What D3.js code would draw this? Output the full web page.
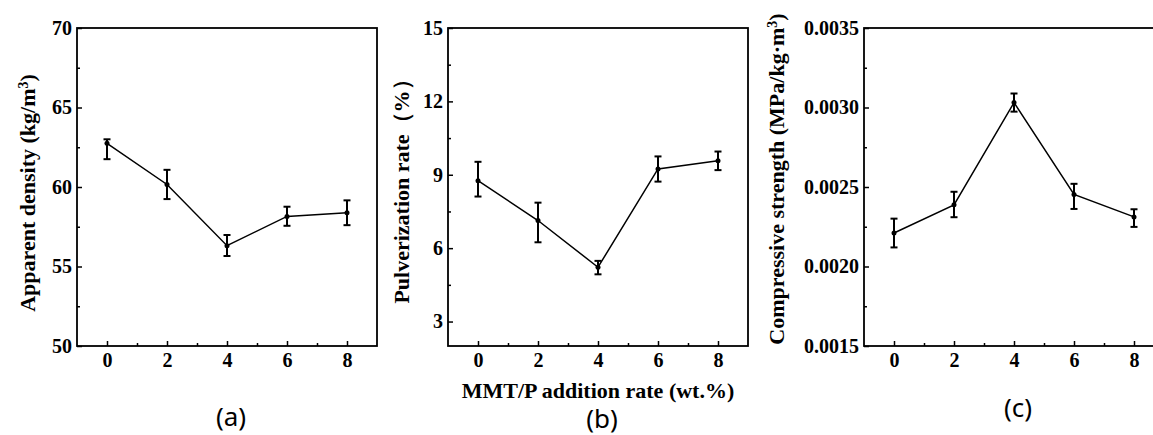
<!DOCTYPE html>
<html lang="en">
<head>
<meta charset="utf-8">
<script src="https://d3js.org/d3.v7.min.js"></script>
<style>
  body { margin: 0; background: #fff; }
  svg { display: block; }
  .axis text { font-family: "Liberation Serif", "Times New Roman", serif; font-weight: bold; font-size: 20px; fill: #000; }
  .axis line { stroke: #000; stroke-width: 1.5; }
  .title { font-family: "Liberation Serif", "Times New Roman", serif; font-weight: bold; font-size: 22px; fill: #000; }
  .tag { font-family: "Noto Sans", "Open Sans", sans-serif; font-size: 26px; fill: #000; }
</style>
</head>
<body>
<script>
// x values (MMT/P addition rate, wt.%)
const xValues = [0, 2, 4, 6, 8];
const xTicks = [0, 2, 4, 6, 8];

// (a) apparent density
const densityMean  = [62.75, 60.16, 56.31, 58.15, 58.38];
const densityUpper = [63.00, 61.08, 56.98, 58.76, 59.16];
const densityLower = [61.75, 59.24, 55.66, 57.56, 57.60];
const densityTicks = [50, 55, 60, 65, 70];

// (b) pulverization rate
const pulverMean  = [8.76, 7.13, 5.22, 9.24, 9.57];
const pulverUpper = [9.53, 7.86, 5.48, 9.75, 9.95];
const pulverLower = [8.11, 6.24, 4.93, 8.72, 9.19];
const pulverTicks = [3, 6, 9, 12, 15];

// (c) compressive strength
const strengthMean  = [0.002211, 0.002388, 0.003031, 0.002453, 0.002312];
const strengthUpper = [0.002301, 0.002470, 0.003088, 0.002520, 0.002360];
const strengthLower = [0.002120, 0.002310, 0.002974, 0.002362, 0.002249];
const strengthTicks = [0.0015, 0.0020, 0.0025, 0.0030, 0.0035];

const W = 1153, H = 435;
const svg = d3.select("body").append("svg")
  .attr("width", W).attr("height", H);

const plotW = 300, plotTop = 28, plotBottom = 346;

let drawPanel = function(p) {
  const g = svg.append("g").attr("transform", "translate(" + p.left + ",0)");

  const x = d3.scaleLinear().domain([-1, 9]).range([0, plotW]);
  const y = d3.scaleLinear().domain(p.yDomain).range([plotBottom, plotTop]);

  // minor ticks (half way between majors)
  const step = p.yTicks[1] - p.yTicks[0];
  const yMinor = p.yTicks.slice(0, -1).map(d => d + step / 2);
  if (p.yDomain[0] < p.yTicks[0]) yMinor.unshift(p.yTicks[0] - step / 2);
  const yMinorIn = yMinor.filter(d => d > p.yDomain[0]);

  g.append("g").attr("class", "axis")
    .call(d3.axisLeft(y).tickValues(yMinorIn).tickSizeInner(-3).tickSizeOuter(0).tickFormat(""))
    .call(a => a.select(".domain").remove());
  g.append("g").attr("class", "axis")
    .call(d3.axisLeft(y).tickValues(p.yTicks).tickSizeInner(-5).tickSizeOuter(0).tickPadding(5).tickFormat(p.fmt))
    .call(a => a.select(".domain").remove());

  g.append("g").attr("class", "axis")
    .attr("transform", "translate(0," + plotBottom + ")")
    .call(d3.axisBottom(x).tickValues([1, 3, 5, 7]).tickSizeInner(-3).tickSizeOuter(0).tickFormat(""))
    .call(a => a.select(".domain").remove());
  g.append("g").attr("class", "axis")
    .attr("transform", "translate(0," + plotBottom + ")")
    .call(d3.axisBottom(x).tickValues(xTicks).tickSizeInner(-5).tickSizeOuter(0).tickPadding(7))
    .call(a => a.select(".domain").remove());

  // frame
  g.append("rect")
    .attr("x", 0).attr("y", plotTop)
    .attr("width", plotW).attr("height", plotBottom - plotTop)
    .attr("fill", "none").attr("stroke", "#000").attr("stroke-width", 1.8);

  const data = xValues.map((v, i) => ({ x: v, y: p.mean[i], hi: p.upper[i], lo: p.lower[i] }));

  // error bars
  const eb = g.append("g").attr("stroke", "#000").attr("stroke-width", 2);
  eb.selectAll("line.v").data(data).enter().append("line")
    .attr("x1", d => x(d.x)).attr("x2", d => x(d.x))
    .attr("y1", d => y(d.hi)).attr("y2", d => y(d.lo));
  eb.selectAll("line.t").data(data).enter().append("line")
    .attr("x1", d => x(d.x) - 3.5).attr("x2", d => x(d.x) + 3.5)
    .attr("y1", d => y(d.hi)).attr("y2", d => y(d.hi));
  eb.selectAll("line.b").data(data).enter().append("line")
    .attr("x1", d => x(d.x) - 3.5).attr("x2", d => x(d.x) + 3.5)
    .attr("y1", d => y(d.lo)).attr("y2", d => y(d.lo));

  // line
  g.append("path").datum(data)
    .attr("fill", "none").attr("stroke", "#000").attr("stroke-width", 1.5)
    .attr("d", d3.line().x(d => x(d.x)).y(d => y(d.y)));

  g.selectAll("circle").data(data).enter().append("circle")
    .attr("cx", d => x(d.x)).attr("cy", d => y(d.y)).attr("r", 2.5)
    .attr("fill", "#000");

  // y title
  const t = svg.append("text").attr("class", "title")
    .attr("text-anchor", "middle")
    .attr("transform", "translate(" + p.titleX + "," + p.titleY + ") rotate(-90)")
    .attr("dy", "0.35em");
  p.title.forEach(part => {
    const s = t.append("tspan").text(part.text);
    if (part.sup) s.attr("baseline-shift", "super").style("font-size", "14px");
  });

  // panel tag
  svg.append("text").attr("class", "tag")
    .attr("x", p.left + p.tagDx).attr("y", p.tagY)
    .attr("text-anchor", "middle")
    .text(p.tag);
};

drawPanel({
  left: 77, yDomain: [50, 70], yTicks: densityTicks, fmt: d => d,
  mean: densityMean, upper: densityUpper, lower: densityLower,
  title: [{ text: "Apparent density (kg/m" }, { text: "3", sup: true }, { text: ")" }],
  titleX: 27, titleY: 193, tag: "(a)", tagDx: 154, tagY: 426
});

drawPanel({
  left: 448, yDomain: [2, 15], yTicks: pulverTicks, fmt: d => d,
  mean: pulverMean, upper: pulverUpper, lower: pulverLower,
  title: [{ text: "Pulverization rate（%）" }],
  titleX: 401, titleY: 186, tag: "(b)", tagDx: 154, tagY: 428
});

drawPanel({
  left: 864, yDomain: [0.0015, 0.0035], yTicks: strengthTicks, fmt: d3.format(".4f"),
  mean: strengthMean, upper: strengthUpper, lower: strengthLower,
  title: [{ text: "Compressive strength (MPa/kg·m" }, { text: "3", sup: true }, { text: ")" }],
  titleX: 776, titleY: 179, tag: "(c)", tagDx: 154, tagY: 417
});

// shared x title
svg.append("text").attr("class", "title")
  .attr("x", 448 + plotW / 2).attr("y", 398)
  .attr("text-anchor", "middle")
  .text("MMT/P addition rate (wt.%)");
</script>
</body>
</html>
